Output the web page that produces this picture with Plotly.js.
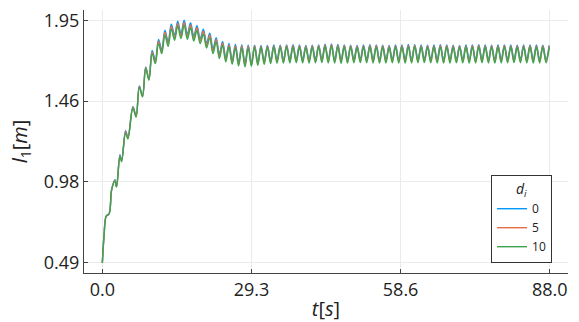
<!DOCTYPE html>
<html><head><meta charset="utf-8">
<script src="https://cdn.plot.ly/plotly-3.0.1.min.js"></script>
<style>
html,body{margin:0;padding:0;background:#fff}
#chart{width:579px;height:322px}
</style>
</head><body><div id="chart"></div>
<script>
// legend labels
const seriesNames = ["0", "5", "10"];
const seriesColors = ["#009AFA", "#E36F47", "#3EA44E"];

// axis ticks
const xTickVals = [0, 29.33, 58.67, 88.0];
const xTickText = ["0.0", "29.3", "58.6", "88.0"];
const yTickVals = [0.49, 0.9767, 1.4633, 1.95];
const yTickText = ["0.49", "0.98", "1.46", "1.95"];

// early rise (staircase)
const tEarly = [0, 0.35, 0.75, 1.33, 1.83, 2.47, 2.79, 3.46, 3.79, 4.57, 5.03];
const y0Early = [0.49, 0.66, 0.77, 0.785, 0.93, 0.99, 0.95, 1.14, 1.105, 1.285, 1.245];
const y5Early = [0.49, 0.66, 0.77, 0.785, 0.93, 0.985, 0.948, 1.135, 1.102, 1.28, 1.24];
const y10Early = [0.49, 0.66, 0.77, 0.785, 0.93, 0.98, 0.945, 1.13, 1.098, 1.272, 1.235];

// oscillation peaks
const tPeak = [6.01, 7.27, 8.53, 9.79, 11.05, 12.31, 13.57, 14.83, 16.09, 17.35,
  18.61, 19.87, 21.13, 22.39, 23.65, 24.91, 26.17, 27.43, 28.69, 29.95,
  31.21, 32.47, 33.73, 34.99, 36.25, 37.51, 38.77, 40.03, 41.29, 42.55,
  43.81, 45.07, 46.33, 47.59, 48.85, 50.11, 51.37, 52.63, 53.89, 55.15,
  56.41, 57.67, 58.93, 60.19, 61.45, 62.71, 63.97, 65.23, 66.49, 67.75,
  69.01, 70.27, 71.53, 72.79, 74.05, 75.31, 76.57, 77.83, 79.09, 80.35,
  81.61, 82.87, 84.13, 85.39, 86.65, 87.91];
const y0Peak = [1.43, 1.554, 1.669, 1.769, 1.834, 1.89, 1.926, 1.944, 1.95, 1.935,
  1.917, 1.896, 1.872, 1.845, 1.823, 1.811, 1.804, 1.802, 1.800, 1.800,
  1.798, 1.799, 1.801, 1.800, 1.802, 1.803, 1.801, 1.799, 1.800, 1.802,
  1.806, 1.808, 1.805, 1.802, 1.800, 1.799, 1.801, 1.803, 1.802, 1.800,
  1.799, 1.801, 1.802, 1.804, 1.803, 1.801, 1.800, 1.801, 1.803, 1.802,
  1.800, 1.799, 1.801, 1.802, 1.803, 1.801, 1.800, 1.801, 1.802, 1.801,
  1.800, 1.801, 1.802, 1.801, 1.800, 1.799];
const y5Peak = [1.427, 1.551, 1.666, 1.761, 1.824, 1.878, 1.914, 1.932, 1.938, 1.923,
  1.905, 1.884, 1.861, 1.835, 1.814, 1.802, 1.796, 1.795, 1.794, 1.795,
  1.793, 1.794, 1.796, 1.795, 1.797, 1.798, 1.796, 1.794, 1.795, 1.797,
  1.801, 1.803, 1.800, 1.797, 1.795, 1.794, 1.796, 1.798, 1.797, 1.795,
  1.794, 1.796, 1.797, 1.799, 1.798, 1.796, 1.795, 1.796, 1.798, 1.797,
  1.795, 1.794, 1.796, 1.797, 1.798, 1.796, 1.795, 1.796, 1.797, 1.796,
  1.795, 1.796, 1.797, 1.796, 1.795, 1.794];
const y10Peak = [1.422, 1.546, 1.661, 1.749, 1.809, 1.86, 1.896, 1.914, 1.92, 1.905,
  1.887, 1.866, 1.844, 1.819, 1.799, 1.789, 1.784, 1.784, 1.784, 1.786,
  1.786, 1.787, 1.789, 1.788, 1.790, 1.791, 1.789, 1.787, 1.788, 1.790,
  1.794, 1.796, 1.793, 1.790, 1.788, 1.787, 1.789, 1.791, 1.790, 1.788,
  1.787, 1.789, 1.790, 1.792, 1.791, 1.789, 1.788, 1.789, 1.791, 1.790,
  1.788, 1.787, 1.789, 1.790, 1.791, 1.789, 1.788, 1.789, 1.790, 1.789,
  1.788, 1.789, 1.790, 1.789, 1.788, 1.787];

// oscillation troughs
const tTrough = [6.64, 7.90, 9.16, 10.42, 11.68, 12.94, 14.20, 15.46, 16.72, 17.98,
  19.24, 20.50, 21.76, 23.02, 24.28, 25.54, 26.80, 28.06, 29.32, 30.58,
  31.84, 33.10, 34.36, 35.62, 36.88, 38.14, 39.40, 40.66, 41.92, 43.18,
  44.44, 45.70, 46.96, 48.22, 49.48, 50.74, 52.00, 53.26, 54.52, 55.78,
  57.04, 58.30, 59.56, 60.82, 62.08, 63.34, 64.60, 65.86, 67.12, 68.38,
  69.64, 70.90, 72.16, 73.42, 74.68, 75.94, 77.20, 78.46, 79.72, 80.98,
  82.24, 83.50, 84.76, 86.02, 87.28];
const y0Trough = [1.375, 1.496, 1.597, 1.709, 1.774, 1.823, 1.86, 1.87, 1.866, 1.855,
  1.84, 1.813, 1.778, 1.747, 1.726, 1.710, 1.698, 1.691, 1.694, 1.699,
  1.705, 1.709, 1.711,
  1.712, 1.713, 1.714, 1.713, 1.712, 1.714, 1.715, 1.713, 1.712, 1.711,
  1.713, 1.714, 1.715, 1.714, 1.713, 1.712, 1.713, 1.714, 1.713, 1.712,
  1.713, 1.714, 1.715, 1.714, 1.713, 1.712, 1.713, 1.714, 1.713, 1.712,
  1.713, 1.714, 1.713, 1.712, 1.713, 1.714, 1.715, 1.714, 1.713, 1.712,
  1.713, 1.714];
const y5Trough = [1.371, 1.492, 1.593, 1.699, 1.762, 1.808, 1.845, 1.855, 1.851, 1.840,
  1.825, 1.798, 1.764, 1.733, 1.712, 1.697, 1.686, 1.680, 1.683, 1.689,
  1.695, 1.699, 1.701,
  1.702, 1.703, 1.704, 1.703, 1.702, 1.704, 1.705, 1.703, 1.702, 1.701,
  1.703, 1.704, 1.705, 1.704, 1.703, 1.702, 1.703, 1.704, 1.703, 1.702,
  1.703, 1.704, 1.705, 1.704, 1.703, 1.702, 1.703, 1.704, 1.703, 1.702,
  1.703, 1.704, 1.703, 1.702, 1.703, 1.704, 1.705, 1.704, 1.703, 1.702,
  1.703, 1.704];
const y10Trough = [1.367, 1.488, 1.589, 1.689, 1.749, 1.793, 1.830, 1.840, 1.836, 1.825,
  1.810, 1.783, 1.749, 1.719, 1.699, 1.685, 1.675, 1.669, 1.673, 1.679,
  1.685, 1.689, 1.691,
  1.692, 1.693, 1.694, 1.693, 1.692, 1.694, 1.695, 1.693, 1.692, 1.691,
  1.693, 1.694, 1.695, 1.694, 1.693, 1.692, 1.693, 1.694, 1.693, 1.692,
  1.693, 1.694, 1.695, 1.694, 1.693, 1.692, 1.693, 1.694, 1.693, 1.692,
  1.693, 1.694, 1.693, 1.692, 1.693, 1.694, 1.695, 1.694, 1.693, 1.692,
  1.693, 1.694];

function buildSeries(early, peaks, troughs) {
  const t = tEarly.slice();
  const y = early.slice();
  for (let k = 0; k < tPeak.length; k++) {
    t.push(tPeak[k]); y.push(peaks[k]);
    if (k < tTrough.length) { t.push(tTrough[k]); y.push(troughs[k]); }
  }
  return {t, y};
}

const groups = [
  [y0Early, y0Peak, y0Trough],
  [y5Early, y5Peak, y5Trough],
  [y10Early, y10Peak, y10Trough]
];

const traces = groups.map((g, i) => {
  const s = buildSeries(g[0], g[1], g[2]);
  return {
    x: s.t, y: s.y, type: 'scatter', mode: 'lines',
    name: seriesNames[i],
    line: {color: seriesColors[i], width: 1.4, shape: 'spline', smoothing: 1}
  };
});

const FONT = "Open Sans";
const layout = {
  width: 579, height: 322,
  margin: {l: 84, r: 11, t: 10, b: 49},
  paper_bgcolor: '#fff', plot_bgcolor: '#fff',
  font: {family: FONT, color: '#000', size: 19},
  showlegend: true,
  xaxis: {
    range: [-3.61, 91.6], tickvals: xTickVals, ticktext: xTickText,
    showgrid: true, gridcolor: '#ebebeb', gridwidth: 1,
    zeroline: false, showline: true, linecolor: '#444', linewidth: 1,
    ticks: 'inside', ticklen: 4, tickcolor: '#444',
    tickfont: {family: FONT, size: 18, color: '#222'},
    title: {text: '<i>t</i>[<i>s</i>]', font: {family: FONT, size: 20, color: '#222'}, standoff: 2}
  },
  yaxis: {
    range: [0.428, 2.012], tickvals: yTickVals, ticktext: yTickText,
    showgrid: true, gridcolor: '#ebebeb', gridwidth: 1,
    zeroline: false, showline: true, linecolor: '#444', linewidth: 1,
    ticks: 'inside', ticklen: 4, tickcolor: '#444',
    tickfont: {family: FONT, size: 18, color: '#222'},
    title: {text: '<i>l</i><sub>1</sub>[<i>m</i>]', font: {family: FONT, size: 20, color: '#222'}, standoff: 10}
  },
  legend: {
    x: 0.967, y: 0.038, xanchor: 'right', yanchor: 'bottom',
    bgcolor: '#fff', bordercolor: '#333', borderwidth: 1,
    font: {family: FONT, size: 12, color: '#222'},
    title: {text: '<i>d</i><sub><i>i</i></sub>', side: 'top center', font: {family: FONT, size: 14, color: '#222'}},
    itemwidth: 30, tracegroupgap: 0
  }
};

Plotly.newPlot('chart', traces, layout, {staticPlot: true, displayModeBar: false});
</script>
</body></html>
